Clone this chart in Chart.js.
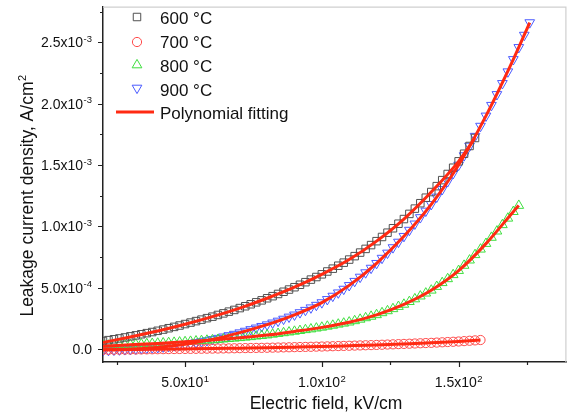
<!DOCTYPE html>
<html>
<head>
<meta charset="utf-8">
<script src="https://cdn.jsdelivr.net/npm/chart.js@4/dist/chart.umd.min.js"></script>
<style>
  html, body { margin: 0; padding: 0; background: #ffffff; }
  #wrap { width: 573px; height: 418px; }
</style>
</head>
<body>
<div id="wrap"><canvas id="c" width="573" height="418"></canvas></div>
<script>
// ---------- data (Electric field in kV/cm, current density in A/cm^2) ----------
const field = [20,22,24,26,28,30,32,34,36,38,40,42,44,46,48,50,52,54,56,58,
  60,62,64,66,68,70,72,74,76,78,80,82,84,86,88,90,92,94,96,98,
  100,102,104,106,108,110,112,114,116,118,120,122,124,126,128,130,132,134,136,138,
  140,142,144,146,148,150,152,154,156,158,160,162,164,166,168,170,172,174,176];

const j600 = [6.7e-5,7.4e-5,8.1e-5,8.8e-5,9.6e-5,10.5e-5,11.3e-5,12.2e-5,13.1e-5,14.0e-5,
  15.0e-5,16.0e-5,17.1e-5,18.2e-5,19.3e-5,20.5e-5,21.7e-5,22.9e-5,24.1e-5,25.3e-5,
  26.5e-5,27.9e-5,29.2e-5,30.6e-5,32.0e-5,33.5e-5,35.0e-5,36.6e-5,38.2e-5,39.8e-5,
  41.5e-5,43.2e-5,45.0e-5,46.8e-5,48.6e-5,50.5e-5,52.5e-5,54.6e-5,56.7e-5,58.8e-5,
  61.0e-5,63.3e-5,65.6e-5,68.0e-5,70.5e-5,73.0e-5,75.8e-5,78.7e-5,81.7e-5,84.8e-5,
  88.0e-5,91.4e-5,94.9e-5,98.5e-5,102.2e-5,106.0e-5,110.2e-5,114.5e-5,118.9e-5,123.4e-5,
  128.0e-5,132.8e-5,137.7e-5,142.7e-5,147.8e-5,153.0e-5,159.2e-5,165.5e-5,172.0e-5];

const j700 = [-0.5e-5,-0.45e-5,-0.4e-5,-0.35e-5,-0.3e-5,-0.25e-5,-0.2e-5,-0.15e-5,-0.1e-5,-0.05e-5,
  0,0.05e-5,0.1e-5,0.15e-5,0.2e-5,0.25e-5,0.3e-5,0.35e-5,0.4e-5,0.45e-5,
  0.5e-5,0.56e-5,0.63e-5,0.7e-5,0.77e-5,0.85e-5,0.92e-5,0.99e-5,1.06e-5,1.13e-5,
  1.2e-5,1.29e-5,1.38e-5,1.48e-5,1.58e-5,1.68e-5,1.78e-5,1.88e-5,1.99e-5,2.1e-5,
  2.2e-5,2.32e-5,2.44e-5,2.57e-5,2.7e-5,2.83e-5,2.96e-5,3.1e-5,3.23e-5,3.36e-5,
  3.5e-5,3.66e-5,3.82e-5,3.98e-5,4.15e-5,4.32e-5,4.5e-5,4.67e-5,4.85e-5,5.02e-5,
  5.2e-5,5.42e-5,5.64e-5,5.86e-5,6.08e-5,6.3e-5,6.6e-5,6.9e-5,7.2e-5,7.5e-5];

const j800 = [3.0e-5,3.15e-5,3.3e-5,3.5e-5,3.65e-5,3.8e-5,4.0e-5,4.2e-5,4.4e-5,4.6e-5,
  4.8e-5,5.0e-5,5.25e-5,5.5e-5,5.75e-5,6.0e-5,6.3e-5,6.6e-5,6.9e-5,7.2e-5,
  7.5e-5,7.85e-5,8.2e-5,8.55e-5,8.9e-5,9.3e-5,9.7e-5,10.1e-5,10.6e-5,11.0e-5,
  11.5e-5,12.1e-5,12.7e-5,13.3e-5,13.9e-5,14.5e-5,15.1e-5,15.8e-5,16.4e-5,17.1e-5,
  17.8e-5,18.6e-5,19.4e-5,20.3e-5,21.1e-5,22.0e-5,23.1e-5,24.3e-5,25.5e-5,26.7e-5,
  28.0e-5,29.6e-5,31.2e-5,32.9e-5,34.7e-5,36.5e-5,38.7e-5,40.9e-5,43.2e-5,45.6e-5,
  48.0e-5,51.0e-5,54.1e-5,57.3e-5,60.6e-5,64.0e-5,68.2e-5,72.5e-5,76.9e-5,81.4e-5,
  86.0e-5,91.0e-5,96.1e-5,101.3e-5,106.6e-5,112.0e-5,117.0e-5];

const j900 = [-1.0e-5,-0.8e-5,-0.6e-5,-0.4e-5,-0.2e-5,0,0.3e-5,0.6e-5,0.9e-5,1.2e-5,
  1.5e-5,2.0e-5,2.5e-5,3.0e-5,3.5e-5,4.0e-5,4.7e-5,5.5e-5,6.3e-5,7.1e-5,
  8.0e-5,9.0e-5,10.1e-5,11.2e-5,12.3e-5,13.5e-5,14.8e-5,16.1e-5,17.4e-5,18.7e-5,
  20.0e-5,21.5e-5,23.0e-5,24.6e-5,26.3e-5,28.0e-5,29.9e-5,31.8e-5,33.8e-5,35.9e-5,
  38.0e-5,40.6e-5,43.3e-5,46.0e-5,49.0e-5,52.0e-5,55.4e-5,58.8e-5,62.4e-5,66.1e-5,
  70.0e-5,74.2e-5,78.4e-5,82.8e-5,87.3e-5,92.0e-5,97.0e-5,102.1e-5,107.3e-5,112.6e-5,
  118.0e-5,124.0e-5,130.2e-5,136.6e-5,143.2e-5,150.0e-5,157.7e-5,165.5e-5,173.5e-5,181.7e-5,
  190.0e-5,198.7e-5,207.5e-5,216.5e-5,226.0e-5,236.0e-5,245.8e-5,255.8e-5,266.0e-5];

// polynomial fitting curves
const fit600X = [20,30,40,50,60,70,80,90,100,110,120,130,140,150,156];
const fit600Y = [5.5e-5,10e-5,14.8e-5,20.3e-5,26.5e-5,33.5e-5,41.5e-5,50.5e-5,61e-5,73e-5,88e-5,106e-5,128e-5,153e-5,172e-5];
const fit700X = [20,30,40,50,60,70,80,90,100,110,120,130,140,150,158];
const fit700Y = [-0.5e-5,-0.25e-5,0,0.25e-5,0.5e-5,0.85e-5,1.2e-5,1.68e-5,2.2e-5,2.83e-5,3.5e-5,4.32e-5,5.2e-5,6.3e-5,7.5e-5];
const fit800X = [20,30,40,50,60,70,80,90,100,110,120,130,140,150,160,170,172];
const fit800Y = [2.5e-5,3.6e-5,4.7e-5,6e-5,7.5e-5,9.3e-5,11.5e-5,14.5e-5,17.8e-5,22e-5,28e-5,36.5e-5,48e-5,64e-5,86e-5,112e-5,117e-5];
const fit900X = [20,30,40,50,60,70,80,90,100,110,120,130,140,150,160,170,176];
const fit900Y = [-0.5e-5,0,1.5e-5,4e-5,8e-5,13.5e-5,20e-5,28e-5,38e-5,52e-5,70e-5,92e-5,118e-5,150e-5,190e-5,236e-5,266e-5];

const seriesNames = ['600 °C', '700 °C', '800 °C', '900 °C'];
const fitName = 'Polynomial fitting';

// ticks
const xMajor = [50, 100, 150];
const xMajorBase = ['5.0x10', '1.0x10', '1.5x10'];
const xMajorExp = ['1', '2', '2'];
const xMinor = [25, 75, 125, 175];
const yMajor = [0, 5e-4, 1e-3, 1.5e-3, 2e-3, 2.5e-3];
const yMajorBase = ['0.0', '5.0x10', '1.0x10', '1.5x10', '2.0x10', '2.5x10'];
const yMajorExp = ['', '-4', '-3', '-3', '-3', '-3'];
const yMinor = [2.5e-4, 7.5e-4, 1.25e-3, 1.75e-3, 2.25e-3, 2.75e-3];

const xTitle = 'Electric field, kV/cm';
const yTitle = 'Leakage current density, A/cm';
const yTitleSup = '2';

// ---------- build ----------
const pts = (xs, ys) => ys.map((v, i) => ({ x: xs[i], y: v }));
const FONT = '"Liberation Sans", Arial, Helvetica, sans-serif';
const FIT_COLOR = '#ff2a12';

const markerStyles = [
  { color: '#505050', style: 'rect', radius: 5.3, rotation: 0 },
  { color: '#ff4a4a', style: 'circle', radius: 4.6, rotation: 0 },
  { color: '#3ede3e', style: 'triangle', radius: 5.6, rotation: 0 },
  { color: '#4a5aff', style: 'triangle', radius: 5.6, rotation: 180 }
];
const seriesData = [j600, j700, j800, j900];
const fits = [[fit600X, fit600Y], [fit700X, fit700Y], [fit800X, fit800Y], [fit900X, fit900Y]];

const datasets = [];
seriesData.forEach((arr, i) => {
  const m = markerStyles[i];
  datasets.push({
    label: seriesNames[i],
    data: pts(field, arr),
    showLine: false,
    pointStyle: m.style,
    pointRotation: m.rotation,
    pointRadius: m.radius,
    pointBorderWidth: 1,
    pointBorderColor: m.color,
    pointBackgroundColor: 'rgba(0,0,0,0)',
    borderColor: m.color,
    order: 2
  });
});
fits.forEach((f, i) => {
  datasets.push({
    label: fitName,
    data: pts(f[0], f[1]),
    showLine: true,
    borderColor: FIT_COLOR,
    borderWidth: 3,
    pointRadius: 0,
    cubicInterpolationMode: 'monotone',
    order: 1
  });
});

function drawSup(ctx, base, sup, x, y, align) {
  ctx.font = '14px ' + FONT;
  const wb = ctx.measureText(base).width;
  ctx.font = '9.5px ' + FONT;
  const ws = sup ? ctx.measureText(sup).width + 0.5 : 0;
  const total = wb + ws;
  let start = x;
  if (align === 'right') start = x - total;
  else if (align === 'center') start = x - total / 2;
  ctx.textAlign = 'left';
  ctx.textBaseline = 'alphabetic';
  ctx.font = '14px ' + FONT;
  ctx.fillText(base, start, y);
  if (sup) {
    ctx.font = '9.5px ' + FONT;
    ctx.fillText(sup, start + wb + 0.5, y - 5.5);
  }
}

const decor = {
  id: 'decor',
  afterDraw(chart) {
    const ctx = chart.ctx;
    const a = chart.chartArea;
    const xs = chart.scales.x, ys = chart.scales.y;
    ctx.save();
    // light frame top/right
    ctx.strokeStyle = '#cfcfcf';
    ctx.lineWidth = 1.2;
    ctx.beginPath();
    ctx.moveTo(a.left, a.top + 0.5);
    ctx.lineTo(a.right - 0.5, a.top + 0.5);
    ctx.lineTo(a.right - 0.5, a.bottom);
    ctx.stroke();

    // ticks
    ctx.strokeStyle = '#222';
    ctx.lineWidth = 1.2;
    ctx.beginPath();
    yMajor.forEach(v => { const p = Math.round(ys.getPixelForValue(v)) + 0.5; ctx.moveTo(a.left - 5, p); ctx.lineTo(a.left, p); });
    yMinor.forEach(v => { const p = Math.round(ys.getPixelForValue(v)) + 0.5; if (p >= a.top) { ctx.moveTo(a.left - 3, p); ctx.lineTo(a.left, p); } });
    xMajor.forEach(v => { const p = Math.round(xs.getPixelForValue(v)) + 0.5; ctx.moveTo(p, a.bottom); ctx.lineTo(p, a.bottom + 5); });
    xMinor.forEach(v => { const p = Math.round(xs.getPixelForValue(v)) + 0.5; ctx.moveTo(p, a.bottom); ctx.lineTo(p, a.bottom + 3); });
    ctx.stroke();

    // tick labels
    ctx.fillStyle = '#111';
    yMajor.forEach((v, i) => {
      const p = ys.getPixelForValue(v);
      drawSup(ctx, yMajorBase[i], yMajorExp[i], a.left - 11, p + 5, 'right');
    });
    xMajor.forEach((v, i) => {
      const p = xs.getPixelForValue(v);
      drawSup(ctx, xMajorBase[i], xMajorExp[i], p, a.bottom + 25, 'center');
    });

    // axis titles
    ctx.font = '17.5px ' + FONT;
    ctx.textBaseline = 'alphabetic';
    ctx.textAlign = 'center';
    ctx.fillText(xTitle, 326, 409);
    ctx.save();
    ctx.translate(33, 196);
    ctx.rotate(-Math.PI / 2);
    ctx.font = '17.5px ' + FONT;
    const wt = ctx.measureText(yTitle).width;
    ctx.font = '11px ' + FONT;
    const wsup = ctx.measureText(yTitleSup).width;
    const st = -(wt + wsup) / 2;
    ctx.textAlign = 'left';
    ctx.font = '17.5px ' + FONT;
    ctx.fillText(yTitle, st, 0);
    ctx.font = '11px ' + FONT;
    ctx.fillText(yTitleSup, st + wt + 0.5, -7);
    ctx.restore();

    // legend
    const rows = [17, 42, 65, 88];
    const textY = [24, 48, 72, 96];
    markerStyles.forEach((m, i) => {
      ctx.strokeStyle = m.color;
      ctx.fillStyle = 'rgba(0,0,0,0)';
      ctx.lineWidth = 1;
      Chart.helpers.drawPoint(ctx, { pointStyle: m.style, rotation: m.rotation, radius: m.radius, borderWidth: 1 }, 137, rows[i]);
      ctx.fillStyle = '#111';
      ctx.font = '17px ' + FONT;
      ctx.textAlign = 'left';
      ctx.textBaseline = 'alphabetic';
      ctx.fillText(seriesNames[i], 160, textY[i]);
    });
    ctx.strokeStyle = FIT_COLOR;
    ctx.lineWidth = 3;
    ctx.beginPath();
    ctx.moveTo(116, 112);
    ctx.lineTo(154, 112);
    ctx.stroke();
    ctx.fillStyle = '#111';
    ctx.font = '17px ' + FONT;
    ctx.fillText(fitName, 160, 119);
    ctx.restore();
  }
};

new Chart(document.getElementById('c'), {
  type: 'scatter',
  data: { datasets },
  options: {
    responsive: false,
    animation: false,
    layout: { padding: { top: 1, right: 6, left: 0, bottom: 0 } },
    plugins: { legend: { display: false }, tooltip: { enabled: false } },
    scales: {
      x: {
        type: 'linear', min: 20, max: 189.4,
        grid: { display: false },
        border: { display: true, color: '#222', width: 1.5 },
        ticks: { display: false },
        title: { display: false },
        afterFit(s) { s.height = 56; }
      },
      y: {
        type: 'linear', min: -1.04e-4, max: 2.79e-3,
        grid: { display: false },
        border: { display: true, color: '#222', width: 1.5 },
        ticks: { display: false },
        title: { display: false },
        afterFit(s) { s.width = 103; }
      }
    }
  },
  plugins: [decor]
});
</script>
</body>
</html>
